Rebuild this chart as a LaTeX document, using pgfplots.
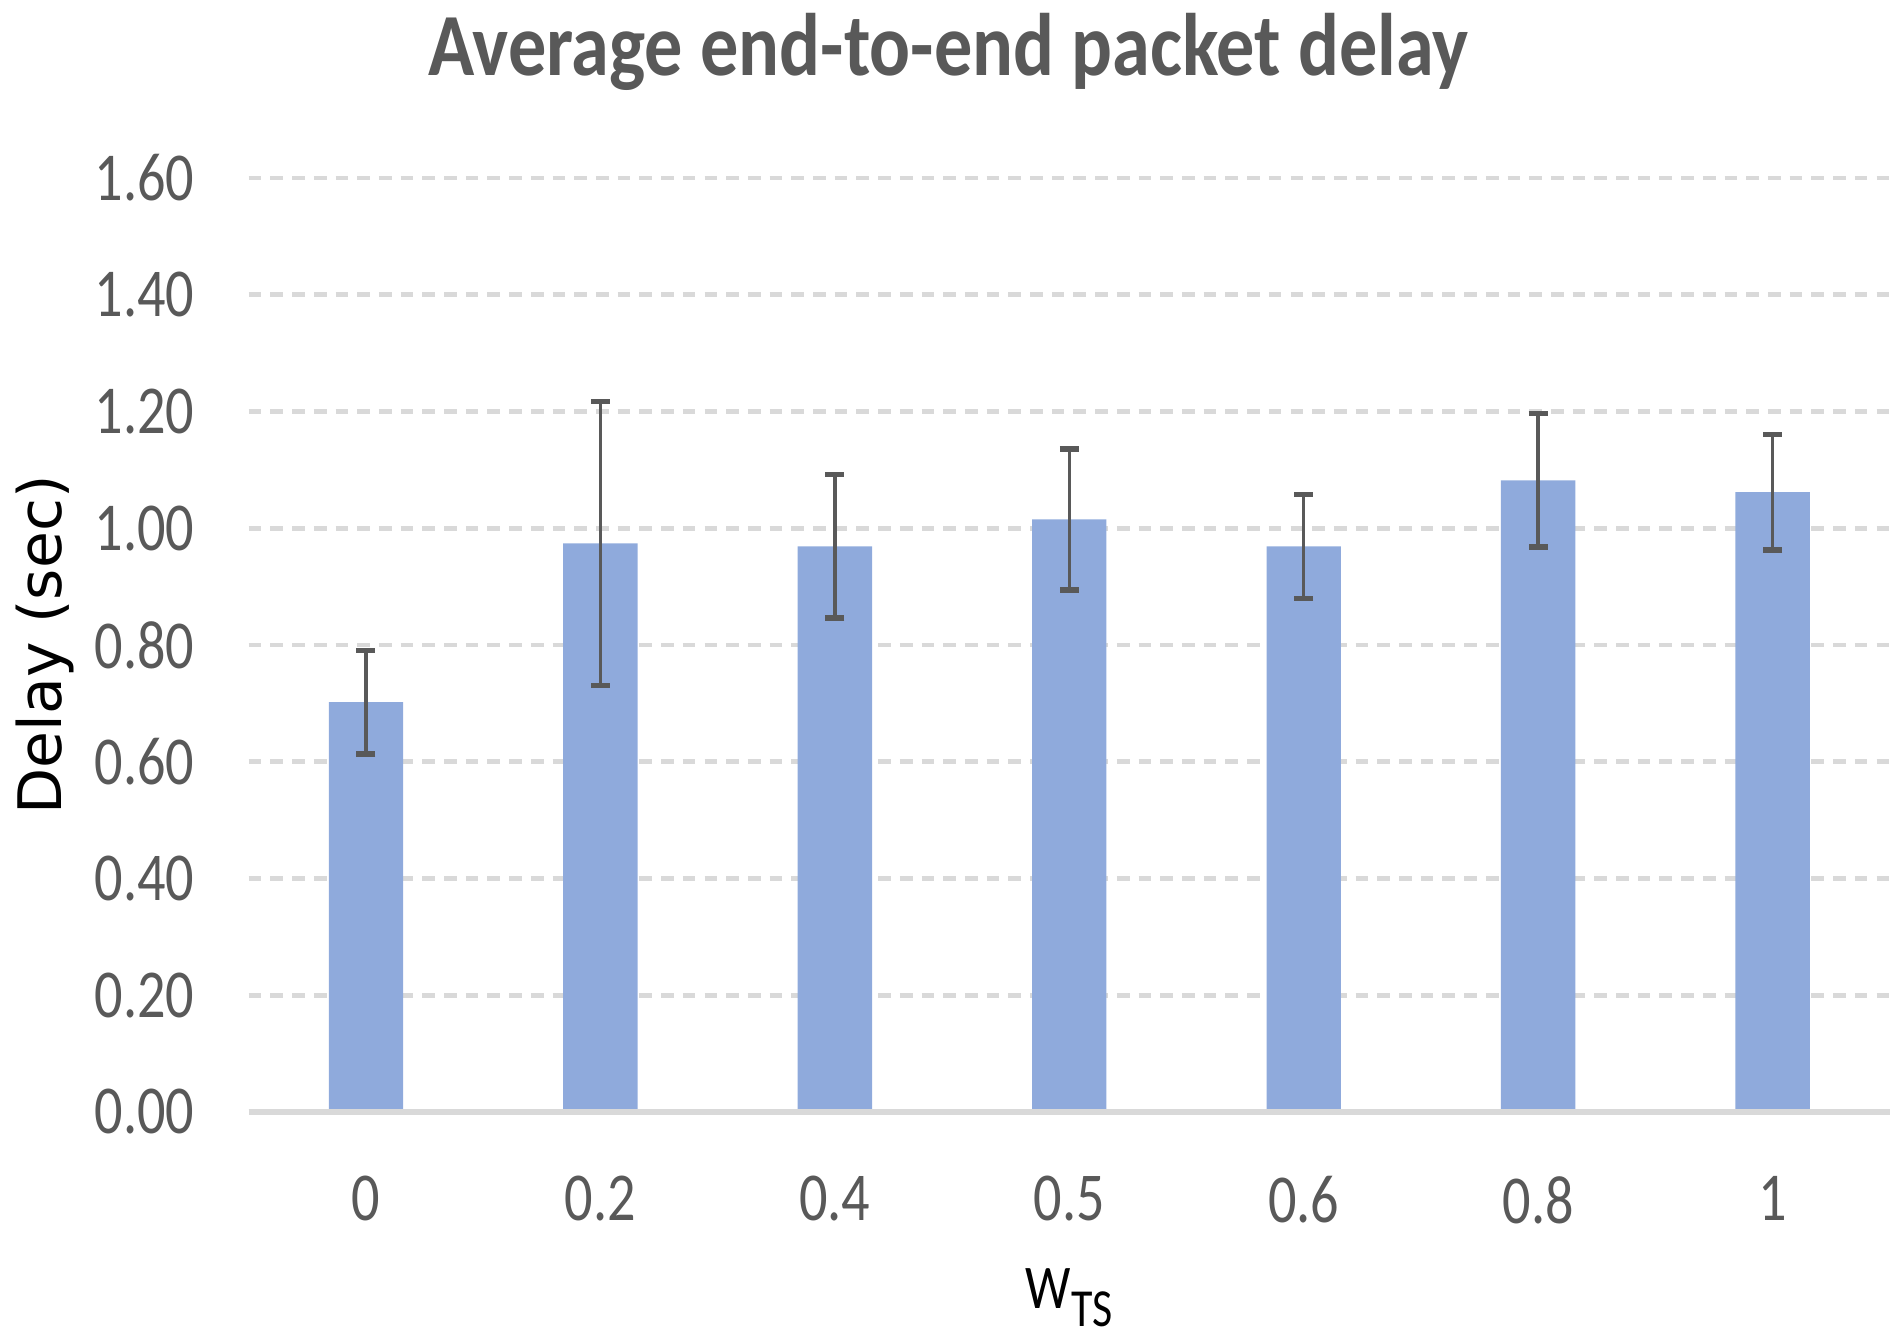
\documentclass[border=0pt]{standalone}
\usepackage{pgfplots}
\pgfplotsset{compat=1.18}
\usepackage{fontspec}
\setmainfont{Carlito}
\newfontfamily\dejavu{DejaVu Sans}
\newfontfamily\tickfont[FakeStretch=0.82]{Carlito}
\newfontfamily\titlefont[FakeStretch=0.86]{Carlito}
\definecolor{barblue}{HTML}{8FAADC}
\definecolor{txtgray}{HTML}{595959}
\definecolor{gridgray}{HTML}{D9D9D9}
\begin{document}
\begin{tikzpicture}
\useasboundingbox (-2.04,-1.88) rectangle (13.56,9.12);
\begin{axis}[
  at={(0,0)}, anchor=south west,
  scale only axis, width=13.46cm, height=7.66cm,
  xmin=-0.5, xmax=6.5, ymin=0, ymax=1.6,
  axis line style={draw=none},
  major tick length=0pt,
  ytick={0,0.2,0.4,0.6,0.8,1.0,1.2,1.4,1.6},
  xtick={0,1,2,3,4,5,6},
  xticklabels={0,0.2,0.4,0.5,0.6,0.8,1},
  /pgf/number format/assume math mode=true,
  yticklabel style={/pgf/number format/.cd, fixed, fixed zerofill, precision=2, /tikz/.cd, anchor=east, inner sep=0pt, xshift=-0.44cm, text=txtgray, font=\tickfont\fontsize{16}{18}\selectfont},
  xticklabel style={anchor=north, inner sep=0pt, yshift=-0.52cm, text=txtgray, font=\tickfont\fontsize{16}{18}\selectfont},
  ymajorgrids,
  grid style={gridgray, line width=1.15pt, dash pattern=on 0.104cm off 0.074cm},
  ybar, bar width=0.61cm,
  clip=false,
]
\addplot[fill=barblue, draw=none,
  error bars/.cd, y dir=both, y explicit, error mark=|,
  error bar style={line width=0.8pt, txtgray},
  error mark options={line width=1.25pt, mark size=0.078cm, txtgray}]
coordinates {
(0,0.702) +- (0,0.089)
(1,0.974) +- (0,0.243)
(2,0.969) +- (0,0.123)
(3,1.015) +- (0,0.121)
(4,0.969) +- (0,0.089)
(5,1.082) +- (0,0.114)
(6,1.062) +- (0,0.099)
};
\draw[gridgray, line width=1.6pt] (axis cs:-0.5,0) -- (axis cs:6.5,0);
\node[rotate=90, anchor=center, font=\dejavu\fontsize{14}{16}\selectfont, text=black] at (axis description cs:-0.124,0.5) {Delay (sec)};
\node[anchor=base, font=\tickfont\fontsize{14.5}{16}\selectfont, text=black] at ([yshift=-1.61cm]axis description cs:0.5,0) {W\raisebox{-0.15cm}{\fontsize{12.5}{13}\selectfont TS}};
\end{axis}
\node[anchor=base, text=txtgray, font=\titlefont\bfseries\fontsize{20.7}{24}\selectfont] at (5.74,8.50) {Average end-to-end packet delay};
\end{tikzpicture}
\end{document}
